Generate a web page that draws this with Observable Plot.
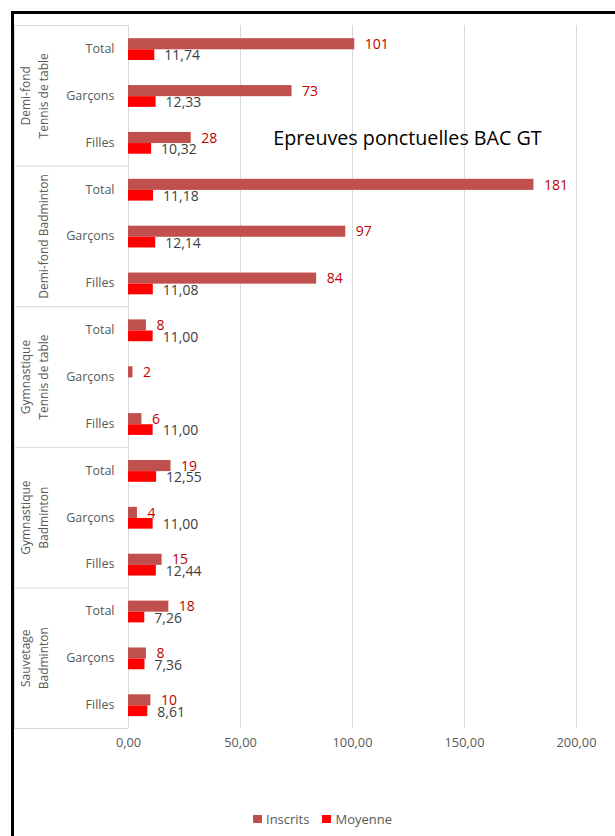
<!DOCTYPE html>
<html><head><meta charset="utf-8">
<script src="https://cdn.jsdelivr.net/npm/d3@7"></script>
<script src="https://cdn.jsdelivr.net/npm/@observablehq/plot@0.6"></script>
<style>
html,body{margin:0;padding:0;background:#fff;width:615px;height:836px;overflow:hidden;font-family:"Open Sans",sans-serif;}
#frame{position:absolute;left:11px;top:11px;width:620px;height:840px;border-top:3px solid #000;border-left:3px solid #000;box-sizing:border-box;}
#chart{position:absolute;left:0;top:0;}
#legend{position:absolute;left:253px;top:810px;display:flex;align-items:center;font-size:13px;color:#595959;white-space:nowrap;}
#legend .item{display:flex;align-items:center;}
#legend .sw{width:9px;height:8px;margin-right:4px;display:inline-block;}
</style></head>
<body>
<div id="frame"></div>
<div id="chart"></div>
<div id="legend"></div>
<script>
const groups = ["Demi-fond\nTennis de table", "Demi-fond Badminton", "Gymnastique\nTennis de table", "Gymnastique\nBadminton", "Sauvetage\nBadminton"];
const subs = ["Total", "Garçons", "Filles"];
const inscrits = [101, 73, 28, 181, 97, 84, 8, 2, 6, 19, 4, 15, 18, 8, 10];
const moyenne = [11.74, 12.33, 10.32, 11.18, 12.14, 11.08, 11.00, null, 11.00, 12.55, 11.00, 12.44, 7.26, 7.36, 8.61];
const xTicks = [0, 50, 100, 150, 200];
const series = ["Inscrits", "Moyenne"];
const colors = ["#C0504D", "#FF0000"];
const title = "Epreuves ponctuelles BAC GT";

const rows = [];
groups.forEach((g, gi) => subs.forEach((s, si) => {
  const i = gi * subs.length + si;
  rows.push({key: g + "|" + s, group: g, sub: s, inscrits: inscrits[i], moyenne: moyenne[i]});
}));
const keys = rows.map(d => d.key);
const withMoy = rows.filter(d => d.moyenne != null);

const W = 615, H = 770, mT = 25, mB = 42, mL = 128, mR = 39;
const bw = (H - mT - mB) / keys.length;
const frac = v => v.toFixed(2).replace(".", ",");
const line = {stroke: "#d9d9d9", strokeWidth: 1};
const sepOpts = {y: "key", insetLeft: -114, insetRight: W - mL - mR, ...line};

const chart = Plot.plot({
  width: W, height: H,
  marginTop: mT, marginBottom: mB, marginLeft: mL, marginRight: mR,
  style: {fontFamily: "'Open Sans', sans-serif", background: "transparent", overflow: "visible"},
  x: {domain: [0, 200], axis: null},
  y: {type: "band", domain: keys, padding: 0, round: false, axis: null},
  marks: [
    Plot.ruleX(xTicks, {x: d => d, ...line}),
    Plot.ruleX([0], {x: d => d, dx: -114, ...line}),
    Plot.ruleY(rows.filter(d => d.sub === "Total"), {...sepOpts, dy: -bw / 2}),
    Plot.ruleY(rows.slice(-1), {...sepOpts, dy: bw / 2}),
    Plot.barX(rows, {y: "key", x: "inscrits", fill: colors[0], insetTop: 13.2, insetBottom: bw - 24.3}),
    Plot.barX(withMoy, {y: "key", x: "moyenne", fill: colors[1], insetTop: 24.3, insetBottom: bw - 35}),
    Plot.text(rows, {y: "key", x: "inscrits", text: d => String(d.inscrits), dx: 10, dy: -4.5, textAnchor: "start", fill: "#C00000", fontSize: 14}),
    Plot.text(withMoy, {y: "key", x: "moyenne", text: d => frac(d.moyenne), dx: 9.5, dy: 7, textAnchor: "start", fill: "#404040", fontSize: 14}),
    Plot.text(rows, {y: "key", frameAnchor: "left", dx: -14, textAnchor: "end", text: "sub", fill: "#595959", fontSize: 12.5}),
    Plot.text(rows.filter(d => d.sub === "Garçons"), {y: "key", frameAnchor: "left", dx: -81, rotate: -90, text: "group", lineAnchor: "bottom", lineHeight: 1.5, textAnchor: "middle", fill: "#595959", fontSize: 12}),
    Plot.text(xTicks, {x: d => d, frameAnchor: "bottom", dy: 18, text: d => frac(d), fill: "#595959", fontSize: 12.8}),
    Plot.text([title], {frameAnchor: "top", dx: 55, dy: 113, lineAnchor: "middle", text: d => d, fontSize: 19.7, fill: "#000"})
  ]
});
document.getElementById("chart").appendChild(chart);

const legend = document.getElementById("legend");
series.forEach((s, i) => {
  const it = document.createElement("span");
  it.className = "item";
  it.style.marginRight = i === 0 ? "13px" : "0";
  const sw = document.createElement("span");
  sw.className = "sw";
  sw.style.background = colors[i];
  it.appendChild(sw);
  it.appendChild(document.createTextNode(s));
  legend.appendChild(it);
});
</script>
</body></html>
